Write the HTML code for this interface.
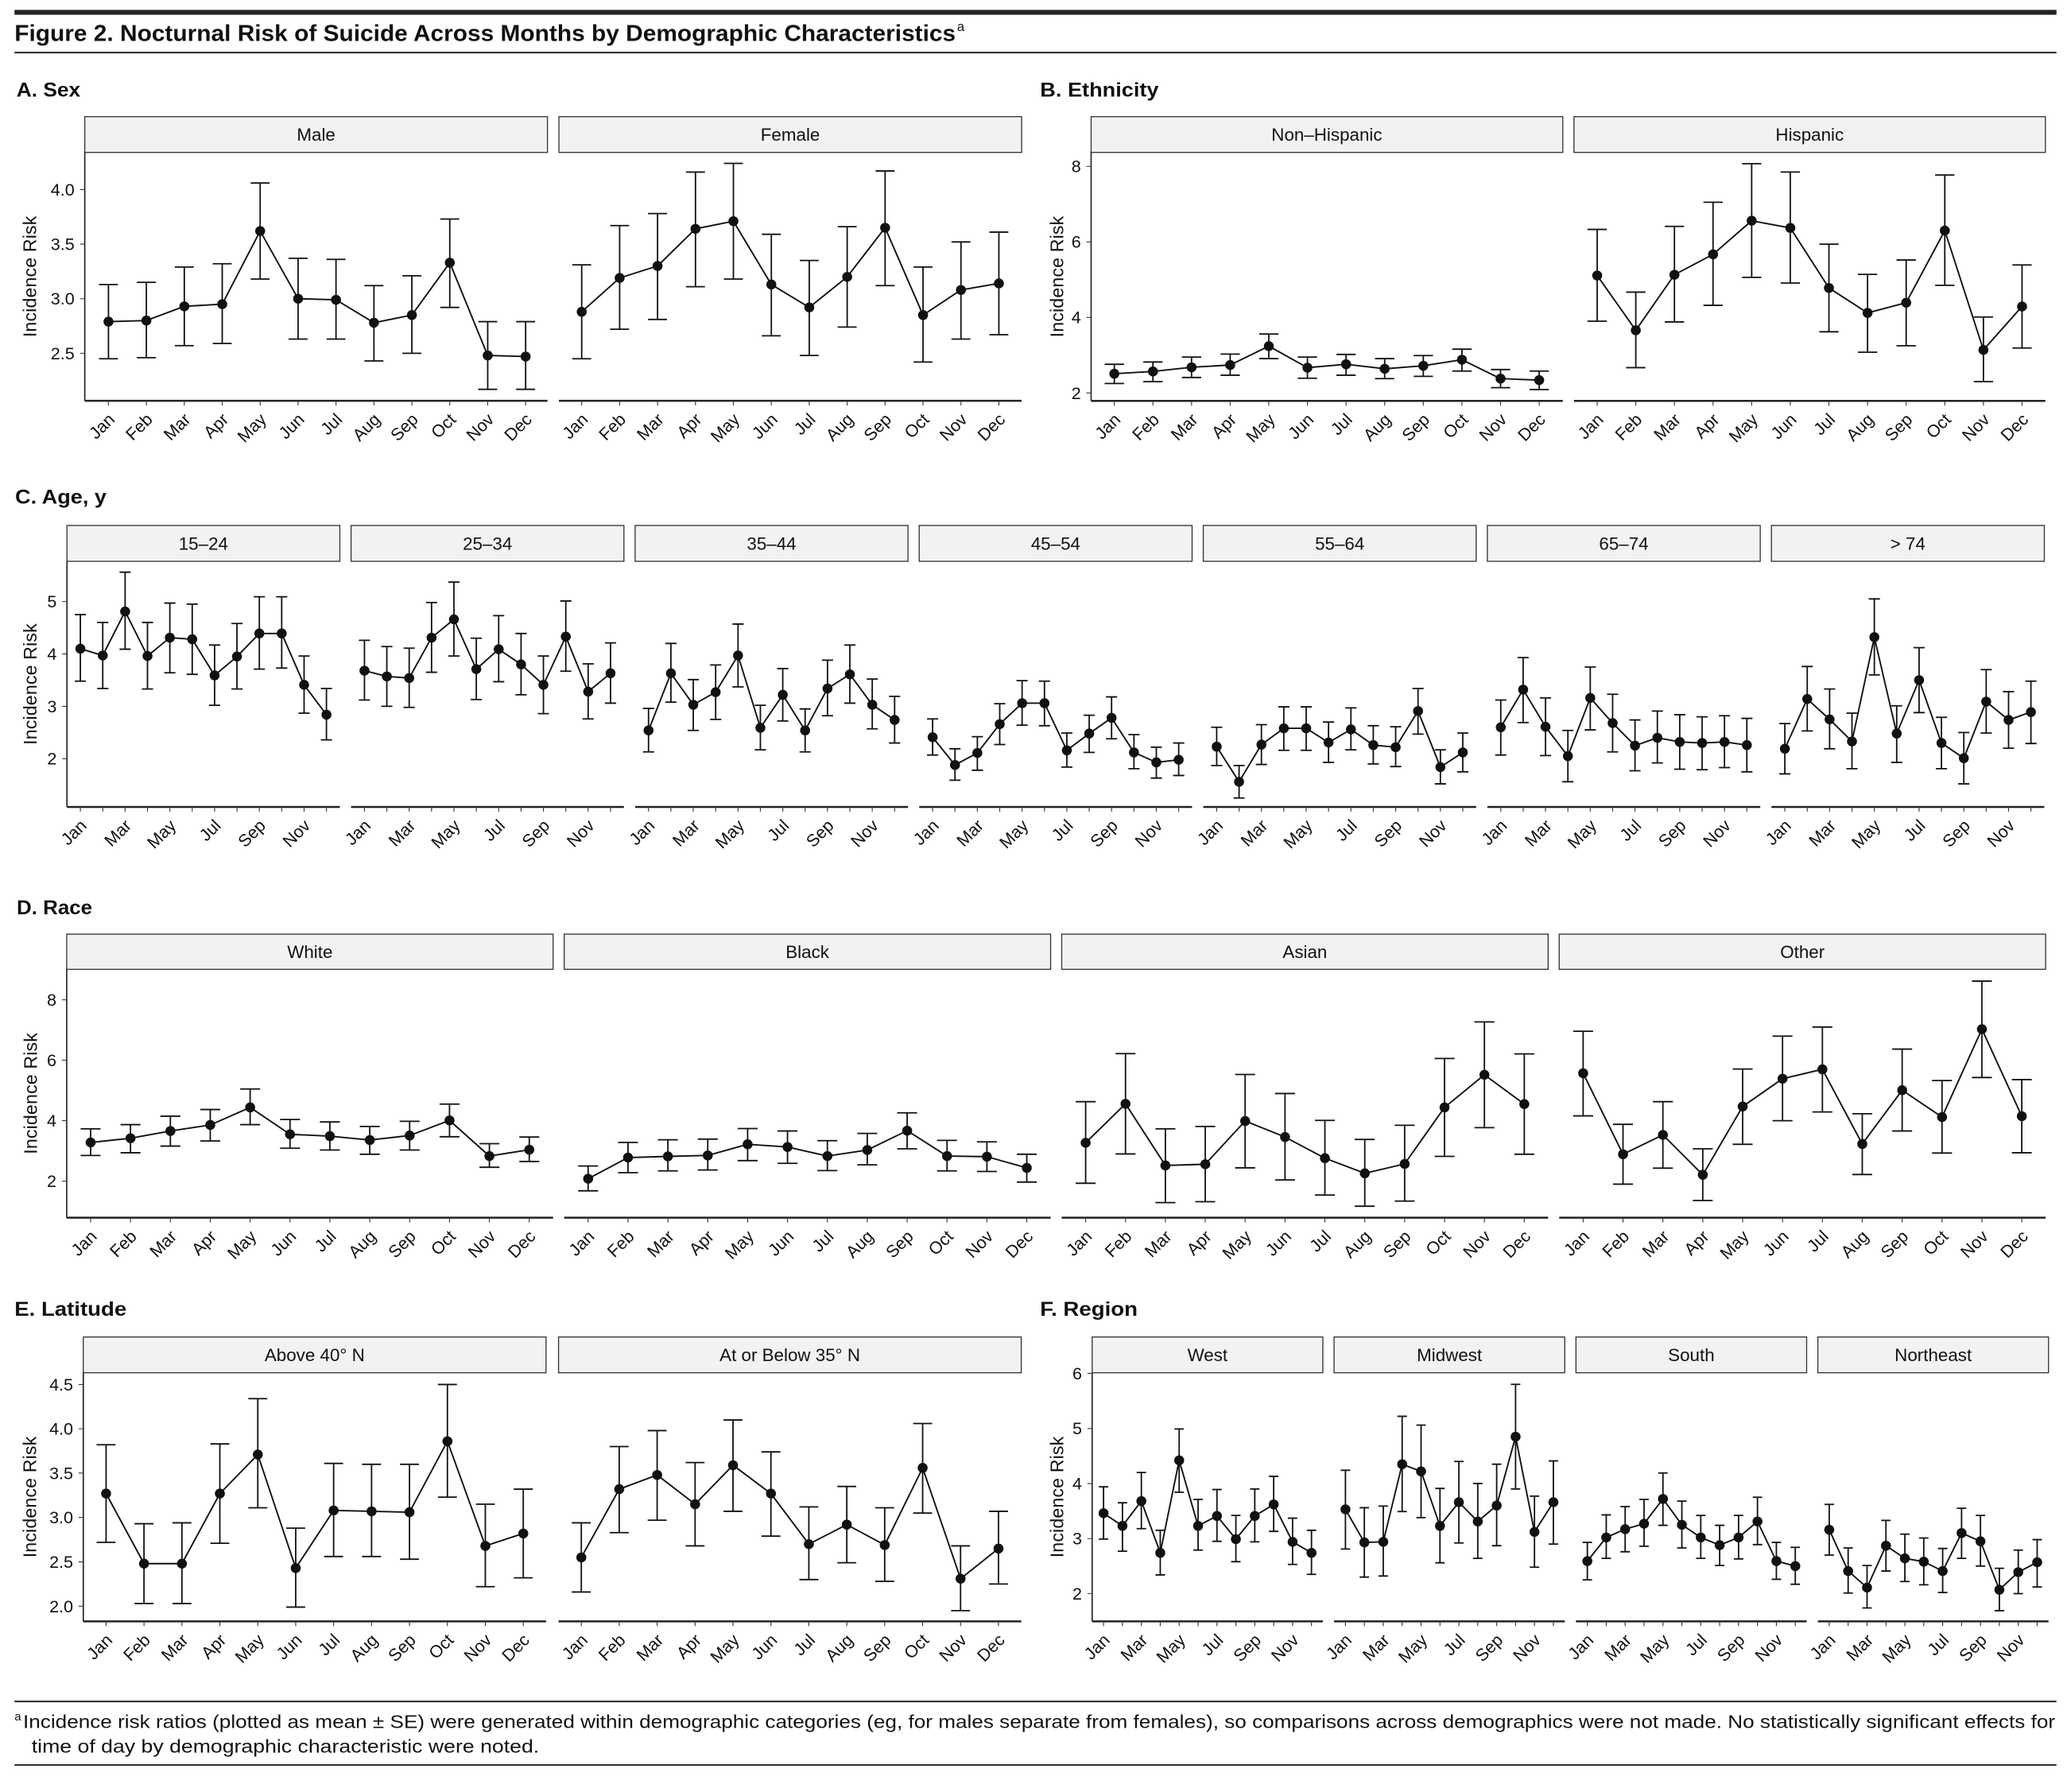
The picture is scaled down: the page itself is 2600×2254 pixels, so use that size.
<!DOCTYPE html>
<html><head><meta charset="utf-8"><style>
html,body{margin:0;padding:0;background:#fff}
svg{display:block}
text{font-family:"Liberation Sans",Arial,sans-serif;fill:#111}
.d{vector-effect:non-scaling-stroke;fill:none;stroke:#111}
.eb{stroke-width:1.8}
.ln{stroke-width:1.9;stroke-linejoin:round}
.pt{stroke-width:12.5;stroke-linecap:round}
.tk{vector-effect:non-scaling-stroke;fill:none;stroke:#333;stroke-width:1.1}
.strip{fill:#f2f2f2;stroke:#333;stroke-width:0.8}
.bx{stroke:#222;stroke-width:1.5}
.lx{stroke:#222;stroke-width:1}
.ml{font-size:13px;text-anchor:end}
.yl{font-size:13px;text-anchor:end}
.st{font-size:13.5px;text-anchor:middle}
.hd{font-size:15px;font-weight:bold}
.yt{font-size:14px;text-anchor:middle}
</style></head><body>
<svg width="2600" height="2254" xmlns="http://www.w3.org/2000/svg">
<g transform="scale(1.65816)">
<!-- Title -->
<rect x="11" y="7.5" width="1549" height="3.7" fill="#222"/>
<text x="11" y="31.2" font-size="17.5" font-weight="bold" textLength="714" lengthAdjust="spacingAndGlyphs">Figure 2. Nocturnal Risk of Suicide Across Months by Demographic Characteristics</text>
<text x="726" y="23.5" font-size="10">a</text>
<rect x="11" y="39.2" width="1549" height="1.3" fill="#333"/>

<!-- Headers -->
<text class="hd" x="12.5" y="73.2" textLength="48.5" lengthAdjust="spacingAndGlyphs">A. Sex</text>
<text class="hd" x="789" y="73.4" textLength="90" lengthAdjust="spacingAndGlyphs">B. Ethnicity</text>
<text class="hd" x="11.5" y="382" textLength="69.3" lengthAdjust="spacingAndGlyphs">C. Age, y</text>
<text class="hd" x="12.7" y="693.5" textLength="57.3" lengthAdjust="spacingAndGlyphs">D. Race</text>
<text class="hd" x="11" y="998.1" textLength="85" lengthAdjust="spacingAndGlyphs">E. Latitude</text>
<text class="hd" x="789" y="998.1" textLength="74" lengthAdjust="spacingAndGlyphs">F. Region</text>

<!-- y titles -->
<text class="yt" transform="translate(27.5,209.8) rotate(-90)" textLength="92" lengthAdjust="spacing">Incidence Risk</text>
<text class="yt" transform="translate(806.5,209.9) rotate(-90)" textLength="92" lengthAdjust="spacing">Incidence Risk</text>
<text class="yt" transform="translate(27.7,519) rotate(-90)" textLength="92" lengthAdjust="spacing">Incidence Risk</text>
<text class="yt" transform="translate(28,829.5) rotate(-90)" textLength="92" lengthAdjust="spacing">Incidence Risk</text>
<text class="yt" transform="translate(27.5,1135.6) rotate(-90)" textLength="92" lengthAdjust="spacing">Incidence Risk</text>
<text class="yt" transform="translate(806.5,1135.6) rotate(-90)" textLength="92" lengthAdjust="spacing">Incidence Risk</text>

<!-- ================= A. Sex ================= -->
<rect class="strip" x="64.3" y="88.5" width="351" height="27.1"/>
<rect class="strip" x="424" y="88.5" width="351" height="27.1"/>
<text class="st" x="239.8" y="106.8">Male</text>
<text class="st" x="599.5" y="106.8">Female</text>
<line class="lx" x1="64.3" y1="115.6" x2="64.3" y2="304"/>
<line class="bx" x1="64.3" y1="304" x2="415.3" y2="304"/>
<line class="bx" x1="424" y1="304" x2="775" y2="304"/>
<g class="yl"><text x="56.5" y="148.3">4.0</text><text x="56.5" y="189.7">3.5</text><text x="56.5" y="231.1">3.0</text><text x="56.5" y="272.5">2.5</text></g>
<path class="tk" d="M60.7,143.8H64.3M60.7,185.2H64.3M60.7,226.6H64.3M60.7,268H64.3"/>
<g transform="translate(53.5,304) scale(28.77,1)"><path class="tk" d="M1,0v3.6M2,0v3.6M3,0v3.6M4,0v3.6M5,0v3.6M6,0v3.6M7,0v3.6M8,0v3.6M9,0v3.6M10,0v3.6M11,0v3.6M12,0v3.6"/></g>
<g transform="translate(412.5,304) scale(28.77,1)"><path class="tk" d="M1,0v3.6M2,0v3.6M3,0v3.6M4,0v3.6M5,0v3.6M6,0v3.6M7,0v3.6M8,0v3.6M9,0v3.6M10,0v3.6M11,0v3.6M12,0v3.6"/></g>
<g class="ml" transform="translate(59,319)"><text transform="translate(28.77,0)rotate(-45)">Jan</text><text transform="translate(57.54,0)rotate(-45)">Feb</text><text transform="translate(86.31,0)rotate(-45)">Mar</text><text transform="translate(115.08,0)rotate(-45)">Apr</text><text transform="translate(143.85,0)rotate(-45)">May</text><text transform="translate(172.62,0)rotate(-45)">Jun</text><text transform="translate(201.39,0)rotate(-45)">Jul</text><text transform="translate(230.16,0)rotate(-45)">Aug</text><text transform="translate(258.93,0)rotate(-45)">Sep</text><text transform="translate(287.7,0)rotate(-45)">Oct</text><text transform="translate(316.47,0)rotate(-45)">Nov</text><text transform="translate(345.24,0)rotate(-45)">Dec</text></g>
<g class="ml" transform="translate(418,319)"><text transform="translate(28.77,0)rotate(-45)">Jan</text><text transform="translate(57.54,0)rotate(-45)">Feb</text><text transform="translate(86.31,0)rotate(-45)">Mar</text><text transform="translate(115.08,0)rotate(-45)">Apr</text><text transform="translate(143.85,0)rotate(-45)">May</text><text transform="translate(172.62,0)rotate(-45)">Jun</text><text transform="translate(201.39,0)rotate(-45)">Jul</text><text transform="translate(230.16,0)rotate(-45)">Aug</text><text transform="translate(258.93,0)rotate(-45)">Sep</text><text transform="translate(287.7,0)rotate(-45)">Oct</text><text transform="translate(316.47,0)rotate(-45)">Nov</text><text transform="translate(345.24,0)rotate(-45)">Dec</text></g>
<!-- Male -->
<g transform="translate(53.5,304) scale(28.77,-82.8) translate(0,-2.065)">
<path class="d eb" d="M.75,3.13h.5m-.25,0V2.45m-.25,0h.5M1.75,3.15h.5m-.25,0V2.46m-.25,0h.5M2.75,3.29h.5m-.25,0V2.57m-.25,0h.5M3.75,3.32h.5m-.25,0V2.59m-.25,0h.5M4.75,4.06h.5m-.25,0V3.18m-.25,0h.5M5.75,3.37h.5m-.25,0V2.63m-.25,0h.5M6.75,3.36h.5m-.25,0V2.63m-.25,0h.5M7.75,3.12h.5m-.25,0V2.43m-.25,0h.5M8.75,3.21h.5m-.25,0V2.5m-.25,0h.5M9.75,3.73h.5m-.25,0V2.92m-.25,0h.5M10.75,2.79h.5m-.25,0V2.17m-.25,0h.5M11.75,2.79h.5m-.25,0V2.17m-.25,0h.5"/>
<polyline class="d ln" points="1,2.79 2,2.8 3,2.93 4,2.95 5,3.62 6,3 7,2.99 8,2.78 9,2.85 10,3.33 11,2.48 12,2.47"/>
<path class="d pt" d="M1,2.79h.001M2,2.8h.001M3,2.93h.001M4,2.95h.001M5,3.62h.001M6,3h.001M7,2.99h.001M8,2.78h.001M9,2.85h.001M10,3.33h.001M11,2.48h.001M12,2.47h.001"/>
</g>
<!-- Female -->
<g transform="translate(412.5,304) scale(28.77,-82.8) translate(0,-2.065)">
<path class="d eb" d="M.75,3.31h.5m-.25,0V2.45m-.25,0h.5M1.75,3.67h.5m-.25,0V2.72m-.25,0h.5M2.75,3.78h.5m-.25,0V2.81m-.25,0h.5M3.75,4.16h.5m-.25,0V3.11m-.25,0h.5M4.75,4.24h.5m-.25,0V3.18m-.25,0h.5M5.75,3.59h.5m-.25,0V2.66m-.25,0h.5M6.75,3.35h.5m-.25,0V2.48m-.25,0h.5M7.75,3.66h.5m-.25,0V2.74m-.25,0h.5M8.75,4.17h.5m-.25,0V3.12m-.25,0h.5M9.75,3.29h.5m-.25,0V2.42m-.25,0h.5M10.75,3.52h.5m-.25,0V2.63m-.25,0h.5M11.75,3.61h.5m-.25,0V2.67m-.25,0h.5"/>
<polyline class="d ln" points="1,2.88 2,3.19 3,3.3 4,3.64 5,3.71 6,3.13 7,2.92 8,3.2 9,3.65 10,2.85 11,3.08 12,3.14"/>
<path class="d pt" d="M1,2.88h.001M2,3.19h.001M3,3.3h.001M4,3.64h.001M5,3.71h.001M6,3.13h.001M7,2.92h.001M8,3.2h.001M9,3.65h.001M10,2.85h.001M11,3.08h.001M12,3.14h.001"/>
</g>

<!-- ================= B. Ethnicity ================= -->
<rect class="strip" x="827.7" y="88.5" width="357.8" height="27.1"/>
<rect class="strip" x="1194" y="88.5" width="357.6" height="27.1"/>
<text class="st" x="1006.5" y="106.8">Non–Hispanic</text>
<text class="st" x="1372.8" y="106.8">Hispanic</text>
<line class="lx" x1="827.7" y1="115.6" x2="827.7" y2="304.1"/>
<line class="bx" x1="827.7" y1="304.1" x2="1185.5" y2="304.1"/>
<line class="bx" x1="1194" y1="304.1" x2="1551.6" y2="304.1"/>
<g class="yl"><text x="820" y="130.7">8</text><text x="820" y="188">6</text><text x="820" y="245.3">4</text><text x="820" y="302.6">2</text></g>
<path class="tk" d="M824.1,126.2H827.7M824.1,183.5H827.7M824.1,240.8H827.7M824.1,298.1H827.7"/>
<g transform="translate(816,304.1) scale(29.3,1)"><path class="tk" d="M1,0v3.6M2,0v3.6M3,0v3.6M4,0v3.6M5,0v3.6M6,0v3.6M7,0v3.6M8,0v3.6M9,0v3.6M10,0v3.6M11,0v3.6M12,0v3.6"/></g>
<g transform="translate(1182.3,304.1) scale(29.3,1)"><path class="tk" d="M1,0v3.6M2,0v3.6M3,0v3.6M4,0v3.6M5,0v3.6M6,0v3.6M7,0v3.6M8,0v3.6M9,0v3.6M10,0v3.6M11,0v3.6M12,0v3.6"/></g>
<g class="ml" transform="translate(821.5,319.1)"><text transform="translate(29.3,0)rotate(-45)">Jan</text><text transform="translate(58.6,0)rotate(-45)">Feb</text><text transform="translate(87.9,0)rotate(-45)">Mar</text><text transform="translate(117.2,0)rotate(-45)">Apr</text><text transform="translate(146.5,0)rotate(-45)">May</text><text transform="translate(175.8,0)rotate(-45)">Jun</text><text transform="translate(205.1,0)rotate(-45)">Jul</text><text transform="translate(234.4,0)rotate(-45)">Aug</text><text transform="translate(263.7,0)rotate(-45)">Sep</text><text transform="translate(293,0)rotate(-45)">Oct</text><text transform="translate(322.3,0)rotate(-45)">Nov</text><text transform="translate(351.6,0)rotate(-45)">Dec</text></g>
<g class="ml" transform="translate(1187.8,319.1)"><text transform="translate(29.3,0)rotate(-45)">Jan</text><text transform="translate(58.6,0)rotate(-45)">Feb</text><text transform="translate(87.9,0)rotate(-45)">Mar</text><text transform="translate(117.2,0)rotate(-45)">Apr</text><text transform="translate(146.5,0)rotate(-45)">May</text><text transform="translate(175.8,0)rotate(-45)">Jun</text><text transform="translate(205.1,0)rotate(-45)">Jul</text><text transform="translate(234.4,0)rotate(-45)">Aug</text><text transform="translate(263.7,0)rotate(-45)">Sep</text><text transform="translate(293,0)rotate(-45)">Oct</text><text transform="translate(322.3,0)rotate(-45)">Nov</text><text transform="translate(351.6,0)rotate(-45)">Dec</text></g>
<!-- Non-Hispanic -->
<g transform="translate(816,304.1) scale(29.3,-28.65) translate(0,-1.79)">
<path class="d eb" d="M.75,2.76h.5m-.25,0V2.25m-.25,0h.5M1.75,2.82h.5m-.25,0V2.3m-.25,0h.5M2.75,2.95h.5m-.25,0V2.41m-.25,0h.5M3.75,3.03h.5m-.25,0V2.47m-.25,0h.5M4.75,3.56h.5m-.25,0V2.91m-.25,0h.5M5.75,2.95h.5m-.25,0V2.39m-.25,0h.5M6.75,3.02h.5m-.25,0V2.47m-.25,0h.5M7.75,2.91h.5m-.25,0V2.38m-.25,0h.5M8.75,2.99h.5m-.25,0V2.44m-.25,0h.5M9.75,3.16h.5m-.25,0V2.58m-.25,0h.5M10.75,2.62h.5m-.25,0V2.14m-.25,0h.5M11.75,2.58h.5m-.25,0V2.09m-.25,0h.5"/>
<polyline class="d ln" points="1,2.51 2,2.57 3,2.68 4,2.74 5,3.24 6,2.67 7,2.76 8,2.64 9,2.72 10,2.88 11,2.38 12,2.34"/>
<path class="d pt" d="M1,2.51h.001M2,2.57h.001M3,2.68h.001M4,2.74h.001M5,3.24h.001M6,2.67h.001M7,2.76h.001M8,2.64h.001M9,2.72h.001M10,2.88h.001M11,2.38h.001M12,2.34h.001"/>
</g>
<!-- Hispanic -->
<g transform="translate(1182.3,304.1) scale(29.3,-28.65) translate(0,-1.79)">
<path class="d eb" d="M.75,6.33h.5m-.25,0V3.9m-.25,0h.5M1.75,4.67h.5m-.25,0V2.67m-.25,0h.5M2.75,6.41h.5m-.25,0V3.88m-.25,0h.5M3.75,7.05h.5m-.25,0V4.32m-.25,0h.5M4.75,8.07h.5m-.25,0V5.06m-.25,0h.5M5.75,7.85h.5m-.25,0V4.91m-.25,0h.5M6.75,5.94h.5m-.25,0V3.62m-.25,0h.5M7.75,5.14h.5m-.25,0V3.08m-.25,0h.5M8.75,5.52h.5m-.25,0V3.25m-.25,0h.5M9.75,7.77h.5m-.25,0V4.85m-.25,0h.5M10.75,4.01h.5m-.25,0V2.3m-.25,0h.5M11.75,5.39h.5m-.25,0V3.19m-.25,0h.5"/>
<polyline class="d ln" points="1,5.11 2,3.66 3,5.13 4,5.67 5,6.56 6,6.37 7,4.78 8,4.12 9,4.39 10,6.3 11,3.14 12,4.29"/>
<path class="d pt" d="M1,5.11h.001M2,3.66h.001M3,5.13h.001M4,5.67h.001M5,6.56h.001M6,6.37h.001M7,4.78h.001M8,4.12h.001M9,4.39h.001M10,6.3h.001M11,3.14h.001M12,4.29h.001"/>
</g>

<!-- ================= C. Age ================= -->
<rect class="strip" x="50.8" y="398.6" width="207" height="27.2"/>
<rect class="strip" x="266.3" y="398.6" width="207" height="27.2"/>
<rect class="strip" x="481.8" y="398.6" width="207" height="27.2"/>
<rect class="strip" x="697.3" y="398.6" width="207" height="27.2"/>
<rect class="strip" x="912.8" y="398.6" width="207" height="27.2"/>
<rect class="strip" x="1128.3" y="398.6" width="207" height="27.2"/>
<rect class="strip" x="1343.8" y="398.6" width="207" height="27.2"/>
<text class="st" x="154.3" y="416.9">15–24</text>
<text class="st" x="369.8" y="416.9">25–34</text>
<text class="st" x="585.3" y="416.9">35–44</text>
<text class="st" x="800.8" y="416.9">45–54</text>
<text class="st" x="1016.3" y="416.9">55–64</text>
<text class="st" x="1231.8" y="416.9">65–74</text>
<text class="st" x="1447.3" y="416.9">&gt; 74</text>
<line class="lx" x1="50.8" y1="425.8" x2="50.8" y2="612.1"/>
<line class="bx" x1="50.8" y1="612.1" x2="257.8" y2="612.1"/>
<line class="bx" x1="266.3" y1="612.1" x2="473.3" y2="612.1"/>
<line class="bx" x1="481.8" y1="612.1" x2="688.8" y2="612.1"/>
<line class="bx" x1="697.3" y1="612.1" x2="904.3" y2="612.1"/>
<line class="bx" x1="912.8" y1="612.1" x2="1119.8" y2="612.1"/>
<line class="bx" x1="1128.3" y1="612.1" x2="1335.3" y2="612.1"/>
<line class="bx" x1="1343.8" y1="612.1" x2="1550.8" y2="612.1"/>
<g class="yl"><text x="43" y="460.8">5</text><text x="43" y="500.55">4</text><text x="43" y="540.3">3</text><text x="43" y="580">2</text></g>
<path class="tk" d="M47.2,456.3H50.8M47.2,496.05H50.8M47.2,535.8H50.8M47.2,575.5H50.8"/>
<g transform="translate(44,612.1) scale(16.97,1)"><path class="tk" d="M1,0v3.6M2,0v3.6M3,0v3.6M4,0v3.6M5,0v3.6M6,0v3.6M7,0v3.6M8,0v3.6M9,0v3.6M10,0v3.6M11,0v3.6M12,0v3.6"/></g>
<g transform="translate(259.5,612.1) scale(16.97,1)"><path class="tk" d="M1,0v3.6M2,0v3.6M3,0v3.6M4,0v3.6M5,0v3.6M6,0v3.6M7,0v3.6M8,0v3.6M9,0v3.6M10,0v3.6M11,0v3.6M12,0v3.6"/></g>
<g transform="translate(475,612.1) scale(16.97,1)"><path class="tk" d="M1,0v3.6M2,0v3.6M3,0v3.6M4,0v3.6M5,0v3.6M6,0v3.6M7,0v3.6M8,0v3.6M9,0v3.6M10,0v3.6M11,0v3.6M12,0v3.6"/></g>
<g transform="translate(690.5,612.1) scale(16.97,1)"><path class="tk" d="M1,0v3.6M2,0v3.6M3,0v3.6M4,0v3.6M5,0v3.6M6,0v3.6M7,0v3.6M8,0v3.6M9,0v3.6M10,0v3.6M11,0v3.6M12,0v3.6"/></g>
<g transform="translate(906,612.1) scale(16.97,1)"><path class="tk" d="M1,0v3.6M2,0v3.6M3,0v3.6M4,0v3.6M5,0v3.6M6,0v3.6M7,0v3.6M8,0v3.6M9,0v3.6M10,0v3.6M11,0v3.6M12,0v3.6"/></g>
<g transform="translate(1121.5,612.1) scale(16.97,1)"><path class="tk" d="M1,0v3.6M2,0v3.6M3,0v3.6M4,0v3.6M5,0v3.6M6,0v3.6M7,0v3.6M8,0v3.6M9,0v3.6M10,0v3.6M11,0v3.6M12,0v3.6"/></g>
<g transform="translate(1337,612.1) scale(16.97,1)"><path class="tk" d="M1,0v3.6M2,0v3.6M3,0v3.6M4,0v3.6M5,0v3.6M6,0v3.6M7,0v3.6M8,0v3.6M9,0v3.6M10,0v3.6M11,0v3.6M12,0v3.6"/></g>
<g class="ml" transform="translate(49.5,627.1)"><text transform="translate(16.97,0)rotate(-45)">Jan</text><text transform="translate(50.91,0)rotate(-45)">Mar</text><text transform="translate(84.85,0)rotate(-45)">May</text><text transform="translate(118.79,0)rotate(-45)">Jul</text><text transform="translate(152.73,0)rotate(-45)">Sep</text><text transform="translate(186.67,0)rotate(-45)">Nov</text></g>
<g class="ml" transform="translate(265,627.1)"><text transform="translate(16.97,0)rotate(-45)">Jan</text><text transform="translate(50.91,0)rotate(-45)">Mar</text><text transform="translate(84.85,0)rotate(-45)">May</text><text transform="translate(118.79,0)rotate(-45)">Jul</text><text transform="translate(152.73,0)rotate(-45)">Sep</text><text transform="translate(186.67,0)rotate(-45)">Nov</text></g>
<g class="ml" transform="translate(480.5,627.1)"><text transform="translate(16.97,0)rotate(-45)">Jan</text><text transform="translate(50.91,0)rotate(-45)">Mar</text><text transform="translate(84.85,0)rotate(-45)">May</text><text transform="translate(118.79,0)rotate(-45)">Jul</text><text transform="translate(152.73,0)rotate(-45)">Sep</text><text transform="translate(186.67,0)rotate(-45)">Nov</text></g>
<g class="ml" transform="translate(696,627.1)"><text transform="translate(16.97,0)rotate(-45)">Jan</text><text transform="translate(50.91,0)rotate(-45)">Mar</text><text transform="translate(84.85,0)rotate(-45)">May</text><text transform="translate(118.79,0)rotate(-45)">Jul</text><text transform="translate(152.73,0)rotate(-45)">Sep</text><text transform="translate(186.67,0)rotate(-45)">Nov</text></g>
<g class="ml" transform="translate(911.5,627.1)"><text transform="translate(16.97,0)rotate(-45)">Jan</text><text transform="translate(50.91,0)rotate(-45)">Mar</text><text transform="translate(84.85,0)rotate(-45)">May</text><text transform="translate(118.79,0)rotate(-45)">Jul</text><text transform="translate(152.73,0)rotate(-45)">Sep</text><text transform="translate(186.67,0)rotate(-45)">Nov</text></g>
<g class="ml" transform="translate(1127,627.1)"><text transform="translate(16.97,0)rotate(-45)">Jan</text><text transform="translate(50.91,0)rotate(-45)">Mar</text><text transform="translate(84.85,0)rotate(-45)">May</text><text transform="translate(118.79,0)rotate(-45)">Jul</text><text transform="translate(152.73,0)rotate(-45)">Sep</text><text transform="translate(186.67,0)rotate(-45)">Nov</text></g>
<g class="ml" transform="translate(1342.5,627.1)"><text transform="translate(16.97,0)rotate(-45)">Jan</text><text transform="translate(50.91,0)rotate(-45)">Mar</text><text transform="translate(84.85,0)rotate(-45)">May</text><text transform="translate(118.79,0)rotate(-45)">Jul</text><text transform="translate(152.73,0)rotate(-45)">Sep</text><text transform="translate(186.67,0)rotate(-45)">Nov</text></g>
<!-- 15-24 -->
<g transform="translate(44,612.1) scale(16.97,-39.75) translate(0,-1.08)">
<path class="d eb" d="M.75,4.75h.5m-.25,0V3.48m-.25,0h.5M1.75,4.6h.5m-.25,0V3.34m-.25,0h.5M2.75,5.56h.5m-.25,0V4.09m-.25,0h.5M3.75,4.6h.5m-.25,0V3.33m-.25,0h.5M4.75,4.97h.5m-.25,0V3.64m-.25,0h.5M5.75,4.95h.5m-.25,0V3.61m-.25,0h.5M6.75,4.17h.5m-.25,0V3.02m-.25,0h.5M7.75,4.58h.5m-.25,0V3.33m-.25,0h.5M8.75,5.09h.5m-.25,0V3.71m-.25,0h.5M9.75,5.09h.5m-.25,0V3.73m-.25,0h.5M10.75,3.96h.5m-.25,0V2.87m-.25,0h.5M11.75,3.34h.5m-.25,0V2.36m-.25,0h.5"/>
<polyline class="d ln" points="1,4.1 2,3.97 3,4.81 4,3.96 5,4.31 6,4.28 7,3.59 8,3.95 9,4.39 10,4.39 11,3.41 12,2.84"/>
<path class="d pt" d="M1,4.1h.001M2,3.97h.001M3,4.81h.001M4,3.96h.001M5,4.31h.001M6,4.28h.001M7,3.59h.001M8,3.95h.001M9,4.39h.001M10,4.39h.001M11,3.41h.001M12,2.84h.001"/>
</g>
<!-- 25-34 -->
<g transform="translate(259.5,612.1) scale(16.97,-39.75) translate(0,-1.08)">
<path class="d eb" d="M.75,4.26h.5m-.25,0V3.12m-.25,0h.5M1.75,4.14h.5m-.25,0V3m-.25,0h.5M2.75,4.11h.5m-.25,0V2.98m-.25,0h.5M3.75,4.98h.5m-.25,0V3.65m-.25,0h.5M4.75,5.37h.5m-.25,0V3.96m-.25,0h.5M5.75,4.3h.5m-.25,0V3.13m-.25,0h.5M6.75,4.73h.5m-.25,0V3.47m-.25,0h.5M7.75,4.39h.5m-.25,0V3.22m-.25,0h.5M8.75,3.96h.5m-.25,0V2.86m-.25,0h.5M9.75,5.01h.5m-.25,0V3.67m-.25,0h.5M10.75,3.81h.5m-.25,0V2.76m-.25,0h.5M11.75,4.21h.5m-.25,0V3.06m-.25,0h.5"/>
<polyline class="d ln" points="1,3.68 2,3.57 3,3.54 4,4.31 5,4.66 6,3.71 7,4.09 8,3.8 9,3.41 10,4.33 11,3.28 12,3.63"/>
<path class="d pt" d="M1,3.68h.001M2,3.57h.001M3,3.54h.001M4,4.31h.001M5,4.66h.001M6,3.71h.001M7,4.09h.001M8,3.8h.001M9,3.41h.001M10,4.33h.001M11,3.28h.001M12,3.63h.001"/>
</g>
<!-- 35-44 -->
<g transform="translate(475,612.1) scale(16.97,-39.75) translate(0,-1.08)">
<path class="d eb" d="M.75,2.96h.5m-.25,0V2.13m-.25,0h.5M1.75,4.2h.5m-.25,0V3.08m-.25,0h.5M2.75,3.51h.5m-.25,0V2.54m-.25,0h.5M3.75,3.79h.5m-.25,0V2.75m-.25,0h.5M4.75,4.57h.5m-.25,0V3.37m-.25,0h.5M5.75,3.02h.5m-.25,0V2.17m-.25,0h.5M6.75,3.72h.5m-.25,0V2.72m-.25,0h.5M7.75,2.95h.5m-.25,0V2.13m-.25,0h.5M8.75,3.88h.5m-.25,0V2.82m-.25,0h.5M9.75,4.17h.5m-.25,0V3.06m-.25,0h.5M10.75,3.52h.5m-.25,0V2.57m-.25,0h.5M11.75,3.19h.5m-.25,0V2.3m-.25,0h.5"/>
<polyline class="d ln" points="1,2.54 2,3.63 3,3.03 4,3.27 5,3.97 6,2.59 7,3.22 8,2.54 9,3.34 10,3.61 11,3.03 12,2.74"/>
<path class="d pt" d="M1,2.54h.001M2,3.63h.001M3,3.03h.001M4,3.27h.001M5,3.97h.001M6,2.59h.001M7,3.22h.001M8,2.54h.001M9,3.34h.001M10,3.61h.001M11,3.03h.001M12,2.74h.001"/>
</g>
<!-- 45-54 -->
<g transform="translate(690.5,612.1) scale(16.97,-39.75) translate(0,-1.08)">
<path class="d eb" d="M.75,2.76h.5m-.25,0V2.07m-.25,0h.5M1.75,2.19h.5m-.25,0V1.59m-.25,0h.5M2.75,2.42h.5m-.25,0V1.78m-.25,0h.5M3.75,3.05h.5m-.25,0V2.27m-.25,0h.5M4.75,3.49h.5m-.25,0V2.64m-.25,0h.5M5.75,3.48h.5m-.25,0V2.63m-.25,0h.5M6.75,2.49h.5m-.25,0V1.84m-.25,0h.5M7.75,2.83h.5m-.25,0V2.12m-.25,0h.5M8.75,3.18h.5m-.25,0V2.38m-.25,0h.5M9.75,2.46h.5m-.25,0V1.81m-.25,0h.5M10.75,2.22h.5m-.25,0V1.63m-.25,0h.5M11.75,2.3h.5m-.25,0V1.68m-.25,0h.5"/>
<polyline class="d ln" points="1,2.41 2,1.88 3,2.11 4,2.66 5,3.06 6,3.06 7,2.16 8,2.48 9,2.78 10,2.12 11,1.93 12,1.98"/>
<path class="d pt" d="M1,2.41h.001M2,1.88h.001M3,2.11h.001M4,2.66h.001M5,3.06h.001M6,3.06h.001M7,2.16h.001M8,2.48h.001M9,2.78h.001M10,2.12h.001M11,1.93h.001M12,1.98h.001"/>
</g>
<!-- 55-64 -->
<g transform="translate(906,612.1) scale(16.97,-39.75) translate(0,-1.08)">
<path class="d eb" d="M.75,2.6h.5m-.25,0V1.87m-.25,0h.5M1.75,1.87h.5m-.25,0V1.25m-.25,0h.5M2.75,2.65h.5m-.25,0V1.89m-.25,0h.5M3.75,2.99h.5m-.25,0V2.16m-.25,0h.5M4.75,2.99h.5m-.25,0V2.16m-.25,0h.5M5.75,2.7h.5m-.25,0V1.93m-.25,0h.5M6.75,2.97h.5m-.25,0V2.17m-.25,0h.5M7.75,2.63h.5m-.25,0V1.9m-.25,0h.5M8.75,2.61h.5m-.25,0V1.85m-.25,0h.5M9.75,3.34h.5m-.25,0V2.47m-.25,0h.5M10.75,2.17h.5m-.25,0V1.52m-.25,0h.5M11.75,2.49h.5m-.25,0V1.75m-.25,0h.5"/>
<polyline class="d ln" points="1,2.23 2,1.56 3,2.27 4,2.58 5,2.58 6,2.31 7,2.56 8,2.26 9,2.22 10,2.91 11,1.84 12,2.12"/>
<path class="d pt" d="M1,2.23h.001M2,1.56h.001M3,2.27h.001M4,2.58h.001M5,2.58h.001M6,2.31h.001M7,2.56h.001M8,2.26h.001M9,2.22h.001M10,2.91h.001M11,1.84h.001M12,2.12h.001"/>
</g>
<!-- 65-74 -->
<g transform="translate(1121.5,612.1) scale(16.97,-39.75) translate(0,-1.08)">
<path class="d eb" d="M.75,3.12h.5m-.25,0V2.07m-.25,0h.5M1.75,3.93h.5m-.25,0V2.69m-.25,0h.5M2.75,3.16h.5m-.25,0V2.06m-.25,0h.5M3.75,2.54h.5m-.25,0V1.56m-.25,0h.5M4.75,3.75h.5m-.25,0V2.55m-.25,0h.5M5.75,3.23h.5m-.25,0V2.13m-.25,0h.5M6.75,2.74h.5m-.25,0V1.77m-.25,0h.5M7.75,2.91h.5m-.25,0V1.92m-.25,0h.5M8.75,2.84h.5m-.25,0V1.8m-.25,0h.5M9.75,2.8h.5m-.25,0V1.79m-.25,0h.5M10.75,2.82h.5m-.25,0V1.83m-.25,0h.5M11.75,2.77h.5m-.25,0V1.75m-.25,0h.5"/>
<polyline class="d ln" points="1,2.6 2,3.32 3,2.61 4,2.05 5,3.16 6,2.68 7,2.25 8,2.4 9,2.32 10,2.3 11,2.32 12,2.26"/>
<path class="d pt" d="M1,2.6h.001M2,3.32h.001M3,2.61h.001M4,2.05h.001M5,3.16h.001M6,2.68h.001M7,2.25h.001M8,2.4h.001M9,2.32h.001M10,2.3h.001M11,2.32h.001M12,2.26h.001"/>
</g>
<!-- >74 -->
<g transform="translate(1337,612.1) scale(16.97,-39.75) translate(0,-1.08)">
<path class="d eb" d="M.75,2.67h.5m-.25,0V1.71m-.25,0h.5M1.75,3.76h.5m-.25,0V2.53m-.25,0h.5M2.75,3.33h.5m-.25,0V2.19m-.25,0h.5M3.75,2.87h.5m-.25,0V1.81m-.25,0h.5M4.75,5.05h.5m-.25,0V3.6m-.25,0h.5M5.75,3.01h.5m-.25,0V1.93m-.25,0h.5M6.75,4.12h.5m-.25,0V2.88m-.25,0h.5M7.75,2.79h.5m-.25,0V1.81m-.25,0h.5M8.75,2.5h.5m-.25,0V1.52m-.25,0h.5M9.75,3.7h.5m-.25,0V2.49m-.25,0h.5M10.75,3.28h.5m-.25,0V2.2m-.25,0h.5M11.75,3.48h.5m-.25,0V2.29m-.25,0h.5"/>
<polyline class="d ln" points="1,2.19 2,3.14 3,2.75 4,2.33 5,4.32 6,2.48 7,3.5 8,2.3 9,2.01 10,3.09 11,2.74 12,2.89"/>
<path class="d pt" d="M1,2.19h.001M2,3.14h.001M3,2.75h.001M4,2.33h.001M5,4.32h.001M6,2.48h.001M7,3.5h.001M8,2.3h.001M9,2.01h.001M10,3.09h.001M11,2.74h.001M12,2.89h.001"/>
</g>

<!-- ================= D. Race ================= -->
<rect class="strip" x="50.6" y="708.6" width="369" height="26.7"/>
<rect class="strip" x="428" y="708.6" width="369" height="26.7"/>
<rect class="strip" x="805.4" y="708.6" width="369" height="26.7"/>
<rect class="strip" x="1182.8" y="708.6" width="369" height="26.7"/>
<text class="st" x="235.1" y="726.6">White</text>
<text class="st" x="612.5" y="726.6">Black</text>
<text class="st" x="989.9" y="726.6">Asian</text>
<text class="st" x="1367.3" y="726.6">Other</text>
<line class="lx" x1="50.6" y1="735.3" x2="50.6" y2="923.7"/>
<line class="bx" x1="50.6" y1="923.7" x2="419.6" y2="923.7"/>
<line class="bx" x1="428" y1="923.7" x2="797" y2="923.7"/>
<line class="bx" x1="805.4" y1="923.7" x2="1174.4" y2="923.7"/>
<line class="bx" x1="1182.8" y1="923.7" x2="1551.8" y2="923.7"/>
<g class="yl"><text x="42.8" y="762.95">8</text><text x="42.8" y="808.8">6</text><text x="42.8" y="854.6">4</text><text x="42.8" y="900.5">2</text></g>
<path class="tk" d="M47,758.45H50.6M47,804.3H50.6M47,850.1H50.6M47,896H50.6"/>
<g transform="translate(38.5,923.7) scale(30.25,1)"><path class="tk" d="M1,0v3.6M2,0v3.6M3,0v3.6M4,0v3.6M5,0v3.6M6,0v3.6M7,0v3.6M8,0v3.6M9,0v3.6M10,0v3.6M11,0v3.6M12,0v3.6"/></g>
<g transform="translate(415.9,923.7) scale(30.25,1)"><path class="tk" d="M1,0v3.6M2,0v3.6M3,0v3.6M4,0v3.6M5,0v3.6M6,0v3.6M7,0v3.6M8,0v3.6M9,0v3.6M10,0v3.6M11,0v3.6M12,0v3.6"/></g>
<g transform="translate(793.3,923.7) scale(30.25,1)"><path class="tk" d="M1,0v3.6M2,0v3.6M3,0v3.6M4,0v3.6M5,0v3.6M6,0v3.6M7,0v3.6M8,0v3.6M9,0v3.6M10,0v3.6M11,0v3.6M12,0v3.6"/></g>
<g transform="translate(1170.7,923.7) scale(30.25,1)"><path class="tk" d="M1,0v3.6M2,0v3.6M3,0v3.6M4,0v3.6M5,0v3.6M6,0v3.6M7,0v3.6M8,0v3.6M9,0v3.6M10,0v3.6M11,0v3.6M12,0v3.6"/></g>
<g class="ml" transform="translate(44,938.7)"><text transform="translate(30.25,0)rotate(-45)">Jan</text><text transform="translate(60.5,0)rotate(-45)">Feb</text><text transform="translate(90.75,0)rotate(-45)">Mar</text><text transform="translate(121,0)rotate(-45)">Apr</text><text transform="translate(151.25,0)rotate(-45)">May</text><text transform="translate(181.5,0)rotate(-45)">Jun</text><text transform="translate(211.75,0)rotate(-45)">Jul</text><text transform="translate(242,0)rotate(-45)">Aug</text><text transform="translate(272.25,0)rotate(-45)">Sep</text><text transform="translate(302.5,0)rotate(-45)">Oct</text><text transform="translate(332.75,0)rotate(-45)">Nov</text><text transform="translate(363,0)rotate(-45)">Dec</text></g>
<g class="ml" transform="translate(421.4,938.7)"><text transform="translate(30.25,0)rotate(-45)">Jan</text><text transform="translate(60.5,0)rotate(-45)">Feb</text><text transform="translate(90.75,0)rotate(-45)">Mar</text><text transform="translate(121,0)rotate(-45)">Apr</text><text transform="translate(151.25,0)rotate(-45)">May</text><text transform="translate(181.5,0)rotate(-45)">Jun</text><text transform="translate(211.75,0)rotate(-45)">Jul</text><text transform="translate(242,0)rotate(-45)">Aug</text><text transform="translate(272.25,0)rotate(-45)">Sep</text><text transform="translate(302.5,0)rotate(-45)">Oct</text><text transform="translate(332.75,0)rotate(-45)">Nov</text><text transform="translate(363,0)rotate(-45)">Dec</text></g>
<g class="ml" transform="translate(798.8,938.7)"><text transform="translate(30.25,0)rotate(-45)">Jan</text><text transform="translate(60.5,0)rotate(-45)">Feb</text><text transform="translate(90.75,0)rotate(-45)">Mar</text><text transform="translate(121,0)rotate(-45)">Apr</text><text transform="translate(151.25,0)rotate(-45)">May</text><text transform="translate(181.5,0)rotate(-45)">Jun</text><text transform="translate(211.75,0)rotate(-45)">Jul</text><text transform="translate(242,0)rotate(-45)">Aug</text><text transform="translate(272.25,0)rotate(-45)">Sep</text><text transform="translate(302.5,0)rotate(-45)">Oct</text><text transform="translate(332.75,0)rotate(-45)">Nov</text><text transform="translate(363,0)rotate(-45)">Dec</text></g>
<g class="ml" transform="translate(1176.2,938.7)"><text transform="translate(30.25,0)rotate(-45)">Jan</text><text transform="translate(60.5,0)rotate(-45)">Feb</text><text transform="translate(90.75,0)rotate(-45)">Mar</text><text transform="translate(121,0)rotate(-45)">Apr</text><text transform="translate(151.25,0)rotate(-45)">May</text><text transform="translate(181.5,0)rotate(-45)">Jun</text><text transform="translate(211.75,0)rotate(-45)">Jul</text><text transform="translate(242,0)rotate(-45)">Aug</text><text transform="translate(272.25,0)rotate(-45)">Sep</text><text transform="translate(302.5,0)rotate(-45)">Oct</text><text transform="translate(332.75,0)rotate(-45)">Nov</text><text transform="translate(363,0)rotate(-45)">Dec</text></g>
<!-- White -->
<g transform="translate(38.5,923.7) scale(30.25,-22.92) translate(0,-0.79)">
<path class="d eb" d="M.75,3.73h.5m-.25,0V2.85m-.25,0h.5M1.75,3.87h.5m-.25,0V2.94m-.25,0h.5M2.75,4.15h.5m-.25,0V3.16m-.25,0h.5M3.75,4.37h.5m-.25,0V3.33m-.25,0h.5M4.75,5.05h.5m-.25,0V3.87m-.25,0h.5M5.75,4.04h.5m-.25,0V3.09m-.25,0h.5M6.75,3.96h.5m-.25,0V3.03m-.25,0h.5M7.75,3.81h.5m-.25,0V2.89m-.25,0h.5M8.75,3.98h.5m-.25,0V3.03m-.25,0h.5M9.75,4.55h.5m-.25,0V3.47m-.25,0h.5M10.75,3.24h.5m-.25,0V2.46m-.25,0h.5M11.75,3.46h.5m-.25,0V2.65m-.25,0h.5"/>
<polyline class="d ln" points="1,3.28 2,3.42 3,3.66 4,3.86 5,4.44 6,3.55 7,3.49 8,3.36 9,3.51 10,4.01 11,2.83 12,3.04"/>
<path class="d pt" d="M1,3.28h.001M2,3.42h.001M3,3.66h.001M4,3.86h.001M5,4.44h.001M6,3.55h.001M7,3.49h.001M8,3.36h.001M9,3.51h.001M10,4.01h.001M11,2.83h.001M12,3.04h.001"/>
</g>
<!-- Black -->
<g transform="translate(415.9,923.7) scale(30.25,-22.92) translate(0,-0.79)">
<path class="d eb" d="M.75,2.5h.5m-.25,0V1.68m-.25,0h.5M1.75,3.28h.5m-.25,0V2.28m-.25,0h.5M2.75,3.37h.5m-.25,0V2.34m-.25,0h.5M3.75,3.39h.5m-.25,0V2.37m-.25,0h.5M4.75,3.74h.5m-.25,0V2.68m-.25,0h.5M5.75,3.66h.5m-.25,0V2.59m-.25,0h.5M6.75,3.34h.5m-.25,0V2.35m-.25,0h.5M7.75,3.58h.5m-.25,0V2.54m-.25,0h.5M8.75,4.26h.5m-.25,0V3.07m-.25,0h.5M9.75,3.35h.5m-.25,0V2.34m-.25,0h.5M10.75,3.3h.5m-.25,0V2.32m-.25,0h.5M11.75,2.89h.5m-.25,0V1.97m-.25,0h.5"/>
<polyline class="d ln" points="1,2.08 2,2.78 3,2.82 4,2.85 5,3.22 6,3.13 7,2.83 8,3.03 9,3.67 10,2.83 11,2.81 12,2.44"/>
<path class="d pt" d="M1,2.08h.001M2,2.78h.001M3,2.82h.001M4,2.85h.001M5,3.22h.001M6,3.13h.001M7,2.83h.001M8,3.03h.001M9,3.67h.001M10,2.83h.001M11,2.81h.001M12,2.44h.001"/>
</g>
<!-- Asian -->
<g transform="translate(793.3,923.7) scale(30.25,-22.92) translate(0,-0.79)">
<path class="d eb" d="M.75,4.63h.5m-.25,0V1.93m-.25,0h.5M1.75,6.22h.5m-.25,0V2.9m-.25,0h.5M2.75,3.73h.5m-.25,0V1.29m-.25,0h.5M3.75,3.81h.5m-.25,0V1.32m-.25,0h.5M4.75,5.53h.5m-.25,0V2.44m-.25,0h.5M5.75,4.9h.5m-.25,0V2.04m-.25,0h.5M6.75,4.01h.5m-.25,0V1.54m-.25,0h.5M7.75,3.38h.5m-.25,0V1.17m-.25,0h.5M8.75,3.85h.5m-.25,0V1.34m-.25,0h.5M9.75,6.06h.5m-.25,0V2.82m-.25,0h.5M10.75,7.27h.5m-.25,0V3.77m-.25,0h.5M11.75,6.21h.5m-.25,0V2.89m-.25,0h.5"/>
<polyline class="d ln" points="1,3.27 2,4.56 3,2.52 4,2.56 5,3.99 6,3.46 7,2.76 8,2.26 9,2.57 10,4.44 11,5.52 12,4.55"/>
<path class="d pt" d="M1,3.27h.001M2,4.56h.001M3,2.52h.001M4,2.56h.001M5,3.99h.001M6,3.46h.001M7,2.76h.001M8,2.26h.001M9,2.57h.001M10,4.44h.001M11,5.52h.001M12,4.55h.001"/>
</g>
<!-- Other -->
<g transform="translate(1170.7,923.7) scale(30.25,-22.92) translate(0,-0.79)">
<path class="d eb" d="M.75,6.96h.5m-.25,0V4.16m-.25,0h.5M1.75,3.88h.5m-.25,0V1.9m-.25,0h.5M2.75,4.63h.5m-.25,0V2.43m-.25,0h.5M3.75,3.07h.5m-.25,0V1.36m-.25,0h.5M4.75,5.71h.5m-.25,0V3.22m-.25,0h.5M5.75,6.8h.5m-.25,0V4m-.25,0h.5M6.75,7.1h.5m-.25,0V4.29m-.25,0h.5M7.75,4.23h.5m-.25,0V2.22m-.25,0h.5M8.75,6.37h.5m-.25,0V3.66m-.25,0h.5M9.75,5.33h.5m-.25,0V2.93m-.25,0h.5M10.75,8.62h.5m-.25,0V5.43m-.25,0h.5M11.75,5.36h.5m-.25,0V2.94m-.25,0h.5"/>
<polyline class="d ln" points="1,5.57 2,2.89 3,3.53 4,2.21 5,4.47 6,5.39 7,5.7 8,3.23 9,5.01 10,4.12 11,7.03 12,4.15"/>
<path class="d pt" d="M1,5.57h.001M2,2.89h.001M3,3.53h.001M4,2.21h.001M5,4.47h.001M6,5.39h.001M7,5.7h.001M8,3.23h.001M9,5.01h.001M10,4.12h.001M11,7.03h.001M12,4.15h.001"/>
</g>

<!-- ================= E. Latitude ================= -->
<rect class="strip" x="63.2" y="1014.2" width="351" height="27.1"/>
<rect class="strip" x="423.7" y="1014.2" width="351" height="27.1"/>
<text class="st" x="238.7" y="1032.5">Above 40° N</text>
<text class="st" x="599.2" y="1032.5">At or Below 35° N</text>
<line class="lx" x1="63.2" y1="1041.3" x2="63.2" y2="1229.9"/>
<line class="bx" x1="63.2" y1="1229.9" x2="414.2" y2="1229.9"/>
<line class="bx" x1="423.7" y1="1229.9" x2="774.7" y2="1229.9"/>
<g class="yl"><text x="55.5" y="1054.7">4.5</text><text x="55.5" y="1088.3">4.0</text><text x="55.5" y="1121.9">3.5</text><text x="55.5" y="1155.6">3.0</text><text x="55.5" y="1189.3">2.5</text><text x="55.5" y="1222.9">2.0</text></g>
<path class="tk" d="M59.6,1050.2H63.2M59.6,1083.8H63.2M59.6,1117.4H63.2M59.6,1151.1H63.2M59.6,1184.8H63.2M59.6,1218.4H63.2"/>
<g transform="translate(51.7,1229.9) scale(28.77,1)"><path class="tk" d="M1,0v3.6M2,0v3.6M3,0v3.6M4,0v3.6M5,0v3.6M6,0v3.6M7,0v3.6M8,0v3.6M9,0v3.6M10,0v3.6M11,0v3.6M12,0v3.6"/></g>
<g transform="translate(412.2,1229.9) scale(28.77,1)"><path class="tk" d="M1,0v3.6M2,0v3.6M3,0v3.6M4,0v3.6M5,0v3.6M6,0v3.6M7,0v3.6M8,0v3.6M9,0v3.6M10,0v3.6M11,0v3.6M12,0v3.6"/></g>
<g class="ml" transform="translate(57.2,1244.9)"><text transform="translate(28.77,0)rotate(-45)">Jan</text><text transform="translate(57.54,0)rotate(-45)">Feb</text><text transform="translate(86.31,0)rotate(-45)">Mar</text><text transform="translate(115.08,0)rotate(-45)">Apr</text><text transform="translate(143.85,0)rotate(-45)">May</text><text transform="translate(172.62,0)rotate(-45)">Jun</text><text transform="translate(201.39,0)rotate(-45)">Jul</text><text transform="translate(230.16,0)rotate(-45)">Aug</text><text transform="translate(258.93,0)rotate(-45)">Sep</text><text transform="translate(287.7,0)rotate(-45)">Oct</text><text transform="translate(316.47,0)rotate(-45)">Nov</text><text transform="translate(345.24,0)rotate(-45)">Dec</text></g>
<g class="ml" transform="translate(417.7,1244.9)"><text transform="translate(28.77,0)rotate(-45)">Jan</text><text transform="translate(57.54,0)rotate(-45)">Feb</text><text transform="translate(86.31,0)rotate(-45)">Mar</text><text transform="translate(115.08,0)rotate(-45)">Apr</text><text transform="translate(143.85,0)rotate(-45)">May</text><text transform="translate(172.62,0)rotate(-45)">Jun</text><text transform="translate(201.39,0)rotate(-45)">Jul</text><text transform="translate(230.16,0)rotate(-45)">Aug</text><text transform="translate(258.93,0)rotate(-45)">Sep</text><text transform="translate(287.7,0)rotate(-45)">Oct</text><text transform="translate(316.47,0)rotate(-45)">Nov</text><text transform="translate(345.24,0)rotate(-45)">Dec</text></g>
<!-- Above 40N -->
<g transform="translate(51.7,1229.9) scale(28.77,-67.27) translate(0,-1.829)">
<path class="d eb" d="M.75,3.82h.5m-.25,0V2.72m-.25,0h.5M1.75,2.93h.5m-.25,0V2.03m-.25,0h.5M2.75,2.94h.5m-.25,0V2.03m-.25,0h.5M3.75,3.83h.5m-.25,0V2.71m-.25,0h.5M4.75,4.34h.5m-.25,0V3.11m-.25,0h.5M5.75,2.88h.5m-.25,0V1.99m-.25,0h.5M6.75,3.61h.5m-.25,0V2.56m-.25,0h.5M7.75,3.6h.5m-.25,0V2.56m-.25,0h.5M8.75,3.6h.5m-.25,0V2.53m-.25,0h.5M9.75,4.5h.5m-.25,0V3.23m-.25,0h.5M10.75,3.15h.5m-.25,0V2.22m-.25,0h.5M11.75,3.32h.5m-.25,0V2.32m-.25,0h.5"/>
<polyline class="d ln" points="1,3.27 2,2.48 3,2.48 4,3.27 5,3.71 6,2.43 7,3.08 8,3.07 9,3.06 10,3.86 11,2.68 12,2.82"/>
<path class="d pt" d="M1,3.27h.001M2,2.48h.001M3,2.48h.001M4,3.27h.001M5,3.71h.001M6,2.43h.001M7,3.08h.001M8,3.07h.001M9,3.06h.001M10,3.86h.001M11,2.68h.001M12,2.82h.001"/>
</g>
<!-- At or below 35N -->
<g transform="translate(412.2,1229.9) scale(28.77,-67.27) translate(0,-1.829)">
<path class="d eb" d="M.75,2.94h.5m-.25,0V2.16m-.25,0h.5M1.75,3.8h.5m-.25,0V2.83m-.25,0h.5M2.75,3.98h.5m-.25,0V2.97m-.25,0h.5M3.75,3.62h.5m-.25,0V2.68m-.25,0h.5M4.75,4.1h.5m-.25,0V3.07m-.25,0h.5M5.75,3.74h.5m-.25,0V2.79m-.25,0h.5M6.75,3.12h.5m-.25,0V2.3m-.25,0h.5M7.75,3.35h.5m-.25,0V2.49m-.25,0h.5M8.75,3.11h.5m-.25,0V2.28m-.25,0h.5M9.75,4.06h.5m-.25,0V3.05m-.25,0h.5M10.75,2.68h.5m-.25,0V1.95m-.25,0h.5M11.75,3.07h.5m-.25,0V2.25m-.25,0h.5"/>
<polyline class="d ln" points="1,2.55 2,3.32 3,3.48 4,3.15 5,3.59 6,3.27 7,2.7 8,2.92 9,2.69 10,3.56 11,2.31 12,2.65"/>
<path class="d pt" d="M1,2.55h.001M2,3.32h.001M3,3.48h.001M4,3.15h.001M5,3.59h.001M6,3.27h.001M7,2.7h.001M8,2.92h.001M9,2.69h.001M10,3.56h.001M11,2.31h.001M12,2.65h.001"/>
</g>

<!-- ================= F. Region ================= -->
<rect class="strip" x="828.5" y="1014.2" width="175" height="27.1"/>
<rect class="strip" x="1012" y="1014.2" width="175" height="27.1"/>
<rect class="strip" x="1195.5" y="1014.2" width="175" height="27.1"/>
<rect class="strip" x="1379" y="1014.2" width="175" height="27.1"/>
<text class="st" x="916" y="1032.5">West</text>
<text class="st" x="1099.5" y="1032.5">Midwest</text>
<text class="st" x="1283" y="1032.5">South</text>
<text class="st" x="1466.5" y="1032.5">Northeast</text>
<line class="lx" x1="828.5" y1="1041.3" x2="828.5" y2="1229.9"/>
<line class="bx" x1="828.5" y1="1229.9" x2="1003.5" y2="1229.9"/>
<line class="bx" x1="1012" y1="1229.9" x2="1187" y2="1229.9"/>
<line class="bx" x1="1195.5" y1="1229.9" x2="1370.5" y2="1229.9"/>
<line class="bx" x1="1379" y1="1229.9" x2="1554" y2="1229.9"/>
<g class="yl"><text x="820.8" y="1046.3">6</text><text x="820.8" y="1088.1">5</text><text x="820.8" y="1129.9">4</text><text x="820.8" y="1171.6">3</text><text x="820.8" y="1213.3">2</text></g>
<path class="tk" d="M824.9,1041.8H828.5M824.9,1083.6H828.5M824.9,1125.4H828.5M824.9,1167.1H828.5M824.9,1208.8H828.5"/>
<g transform="translate(822.8,1229.9) scale(14.34,1)"><path class="tk" d="M1,0v3.6M2,0v3.6M3,0v3.6M4,0v3.6M5,0v3.6M6,0v3.6M7,0v3.6M8,0v3.6M9,0v3.6M10,0v3.6M11,0v3.6M12,0v3.6"/></g>
<g transform="translate(1006.3,1229.9) scale(14.34,1)"><path class="tk" d="M1,0v3.6M2,0v3.6M3,0v3.6M4,0v3.6M5,0v3.6M6,0v3.6M7,0v3.6M8,0v3.6M9,0v3.6M10,0v3.6M11,0v3.6M12,0v3.6"/></g>
<g transform="translate(1189.8,1229.9) scale(14.34,1)"><path class="tk" d="M1,0v3.6M2,0v3.6M3,0v3.6M4,0v3.6M5,0v3.6M6,0v3.6M7,0v3.6M8,0v3.6M9,0v3.6M10,0v3.6M11,0v3.6M12,0v3.6"/></g>
<g transform="translate(1373.3,1229.9) scale(14.34,1)"><path class="tk" d="M1,0v3.6M2,0v3.6M3,0v3.6M4,0v3.6M5,0v3.6M6,0v3.6M7,0v3.6M8,0v3.6M9,0v3.6M10,0v3.6M11,0v3.6M12,0v3.6"/></g>
<g class="ml" transform="translate(828.3,1244.9)"><text transform="translate(14.34,0)rotate(-45)">Jan</text><text transform="translate(43.02,0)rotate(-45)">Mar</text><text transform="translate(71.7,0)rotate(-45)">May</text><text transform="translate(100.38,0)rotate(-45)">Jul</text><text transform="translate(129.06,0)rotate(-45)">Sep</text><text transform="translate(157.74,0)rotate(-45)">Nov</text></g>
<g class="ml" transform="translate(1011.8,1244.9)"><text transform="translate(14.34,0)rotate(-45)">Jan</text><text transform="translate(43.02,0)rotate(-45)">Mar</text><text transform="translate(71.7,0)rotate(-45)">May</text><text transform="translate(100.38,0)rotate(-45)">Jul</text><text transform="translate(129.06,0)rotate(-45)">Sep</text><text transform="translate(157.74,0)rotate(-45)">Nov</text></g>
<g class="ml" transform="translate(1195.3,1244.9)"><text transform="translate(14.34,0)rotate(-45)">Jan</text><text transform="translate(43.02,0)rotate(-45)">Mar</text><text transform="translate(71.7,0)rotate(-45)">May</text><text transform="translate(100.38,0)rotate(-45)">Jul</text><text transform="translate(129.06,0)rotate(-45)">Sep</text><text transform="translate(157.74,0)rotate(-45)">Nov</text></g>
<g class="ml" transform="translate(1378.8,1244.9)"><text transform="translate(14.34,0)rotate(-45)">Jan</text><text transform="translate(43.02,0)rotate(-45)">Mar</text><text transform="translate(71.7,0)rotate(-45)">May</text><text transform="translate(100.38,0)rotate(-45)">Jul</text><text transform="translate(129.06,0)rotate(-45)">Sep</text><text transform="translate(157.74,0)rotate(-45)">Nov</text></g>
<!-- West -->
<g transform="translate(822.8,1229.9) scale(14.34,-41.77) translate(0,-1.496)">
<path class="d eb" d="M.75,3.94h.5m-.25,0V2.99m-.25,0h.5M1.75,3.65h.5m-.25,0V2.77m-.25,0h.5M2.75,4.2h.5m-.25,0V3.18m-.25,0h.5M3.75,3.15h.5m-.25,0V2.34m-.25,0h.5M4.75,4.99h.5m-.25,0V3.84m-.25,0h.5M5.75,3.71h.5m-.25,0V2.79m-.25,0h.5M6.75,3.89h.5m-.25,0V2.95m-.25,0h.5M7.75,3.42h.5m-.25,0V2.58m-.25,0h.5M8.75,3.9h.5m-.25,0V2.94m-.25,0h.5M9.75,4.13h.5m-.25,0V3.13m-.25,0h.5M10.75,3.37h.5m-.25,0V2.53m-.25,0h.5M11.75,3.15h.5m-.25,0V2.35m-.25,0h.5"/>
<polyline class="d ln" points="1,3.46 2,3.23 3,3.68 4,2.74 5,4.42 6,3.23 7,3.41 8,2.99 9,3.41 10,3.62 11,2.94 12,2.74"/>
<path class="d pt" d="M1,3.46h.001M2,3.23h.001M3,3.68h.001M4,2.74h.001M5,4.42h.001M6,3.23h.001M7,3.41h.001M8,2.99h.001M9,3.41h.001M10,3.62h.001M11,2.94h.001M12,2.74h.001"/>
</g>
<!-- Midwest -->
<g transform="translate(1006.3,1229.9) scale(14.34,-41.77) translate(0,-1.496)">
<path class="d eb" d="M.75,4.24h.5m-.25,0V2.81m-.25,0h.5M1.75,3.56h.5m-.25,0V2.3m-.25,0h.5M2.75,3.59h.5m-.25,0V2.32m-.25,0h.5M3.75,5.22h.5m-.25,0V3.49m-.25,0h.5M4.75,5.06h.5m-.25,0V3.38m-.25,0h.5M5.75,3.91h.5m-.25,0V2.56m-.25,0h.5M6.75,4.4h.5m-.25,0V2.92m-.25,0h.5M7.75,4h.5m-.25,0V2.64m-.25,0h.5M8.75,4.35h.5m-.25,0V2.87m-.25,0h.5M9.75,5.8h.5m-.25,0V3.9m-.25,0h.5M10.75,3.77h.5m-.25,0V2.48m-.25,0h.5M11.75,4.41h.5m-.25,0V2.9m-.25,0h.5"/>
<polyline class="d ln" points="1,3.53 2,2.93 3,2.94 4,4.35 5,4.22 6,3.23 7,3.66 8,3.31 9,3.6 10,4.85 11,3.12 12,3.66"/>
<path class="d pt" d="M1,3.53h.001M2,2.93h.001M3,2.94h.001M4,4.35h.001M5,4.22h.001M6,3.23h.001M7,3.66h.001M8,3.31h.001M9,3.6h.001M10,4.85h.001M11,3.12h.001M12,3.66h.001"/>
</g>
<!-- South -->
<g transform="translate(1189.8,1229.9) scale(14.34,-41.77) translate(0,-1.496)">
<path class="d eb" d="M.75,2.93h.5m-.25,0V2.25m-.25,0h.5M1.75,3.43h.5m-.25,0V2.64m-.25,0h.5M2.75,3.58h.5m-.25,0V2.76m-.25,0h.5M3.75,3.71h.5m-.25,0V2.86m-.25,0h.5M4.75,4.19h.5m-.25,0V3.24m-.25,0h.5M5.75,3.68h.5m-.25,0V2.83m-.25,0h.5M6.75,3.42h.5m-.25,0V2.64m-.25,0h.5M7.75,3.24h.5m-.25,0V2.51m-.25,0h.5M8.75,3.42h.5m-.25,0V2.63m-.25,0h.5M9.75,3.75h.5m-.25,0V2.89m-.25,0h.5M10.75,2.93h.5m-.25,0V2.26m-.25,0h.5M11.75,2.84h.5m-.25,0V2.17m-.25,0h.5"/>
<polyline class="d ln" points="1,2.59 2,3.02 3,3.17 4,3.27 5,3.72 6,3.25 7,3.02 8,2.88 9,3.02 10,3.31 11,2.59 12,2.5"/>
<path class="d pt" d="M1,2.59h.001M2,3.02h.001M3,3.17h.001M4,3.27h.001M5,3.72h.001M6,3.25h.001M7,3.02h.001M8,2.88h.001M9,3.02h.001M10,3.31h.001M11,2.59h.001M12,2.5h.001"/>
</g>
<!-- Northeast -->
<g transform="translate(1373.3,1229.9) scale(14.34,-41.77) translate(0,-1.496)">
<path class="d eb" d="M.75,3.62h.5m-.25,0V2.7m-.25,0h.5M1.75,2.83h.5m-.25,0V2.01m-.25,0h.5M2.75,2.51h.5m-.25,0V1.74m-.25,0h.5M3.75,3.33h.5m-.25,0V2.41m-.25,0h.5M4.75,3.08h.5m-.25,0V2.22m-.25,0h.5M5.75,3.01h.5m-.25,0V2.16m-.25,0h.5M6.75,2.82h.5m-.25,0V2.02m-.25,0h.5M7.75,3.55h.5m-.25,0V2.64m-.25,0h.5M8.75,3.42h.5m-.25,0V2.5m-.25,0h.5M9.75,2.46h.5m-.25,0V1.69m-.25,0h.5M10.75,2.79h.5m-.25,0V2m-.25,0h.5M11.75,2.98h.5m-.25,0V2.12m-.25,0h.5"/>
<polyline class="d ln" points="1,3.16 2,2.41 3,2.11 4,2.87 5,2.64 6,2.58 7,2.41 8,3.1 9,2.95 10,2.07 11,2.39 12,2.57"/>
<path class="d pt" d="M1,3.16h.001M2,2.41h.001M3,2.11h.001M4,2.87h.001M5,2.64h.001M6,2.58h.001M7,2.41h.001M8,3.1h.001M9,2.95h.001M10,2.07h.001M11,2.39h.001M12,2.57h.001"/>
</g>

<!-- Footnote -->
<rect x="11" y="1290" width="1549" height="1.3" fill="#333"/>
<text x="11" y="1305" font-size="9">a</text>
<text x="17.5" y="1310.7" font-size="14" textLength="1541.5" lengthAdjust="spacingAndGlyphs">Incidence risk ratios (plotted as mean ± SE) were generated within demographic categories (eg, for males separate from females), so comparisons across demographics were not made. No statistically significant effects for</text>
<text x="24" y="1329.4" font-size="14" textLength="385" lengthAdjust="spacingAndGlyphs">time of day by demographic characteristic were noted.</text>
<rect x="11" y="1338.2" width="1549" height="1.3" fill="#333"/>
</g>
</svg>
</body></html>
